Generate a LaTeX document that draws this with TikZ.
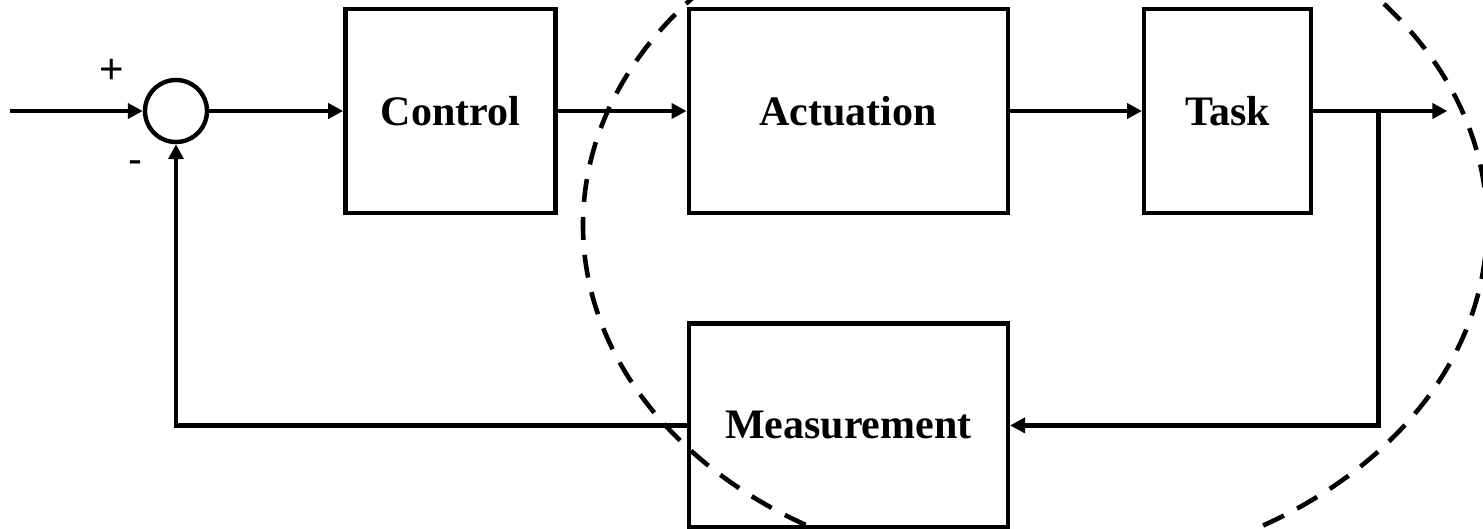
\documentclass[tikz,border=0pt]{standalone}
\usepackage{fontspec}
\setmainfont{Liberation Serif}
\newfontfamily\signfont{Liberation Sans}
\usetikzlibrary{arrows.meta,positioning}

\begin{document}
\begin{tikzpicture}[->,>={Triangle[length=7.5pt,width=7.5pt]},line width=2.2pt,
    x=0.5pt,y=-0.5pt,
    block/.style={draw,rectangle,minimum height=102pt,
      font=\fontsize{21}{25}\selectfont\bfseries},
    sumnode/.style={draw,circle,minimum size=31pt,inner sep=0pt},
    sign/.style={font=\signfont\fontsize{21}{25}\selectfont,inner sep=0pt},
    zone/.style={dashed,dash pattern=on 11.5pt off 7.5pt,line width=2.3pt}]

  \useasboundingbox (0,0) rectangle (1483,529);
  \clip (0,0) rectangle (1483,529);

  \node[sumnode] (sum) at (176,111) {};
  \node[block,minimum width=105pt] (ctrl) [right=67pt of sum] {Control};
  \node[block,minimum width=159.5pt] (act) [right=64.5pt of ctrl] {Actuation};
  \node[block,minimum width=83.5pt] (task) [right=66pt of act] {Task};
  \node[block,minimum width=159.5pt] (meas) [below=53pt of act] {Measurement};

  \node[sign] (plus) at (112,71) {+};
  \node[sign] (minus) at (135,167) {-};

  \coordinate[left=66.5pt of sum] (in);
  \coordinate[right=67pt of task] (out);
  \coordinate[right=32.5pt of task] (br);

  \draw
  (in) -- (sum);
  \draw (sum) -- (ctrl);
  \draw (ctrl) -- (act);
  \draw (act) -- (task);
  \draw (task) -- (out);
  \draw (br) |- (meas.east);
  \draw (meas.west) -| (sum.south);

  % dashed region round actuation, task and measurement
  \draw[-,zone] (1035,225) ellipse [x radius=226pt, y radius=174pt];

\end{tikzpicture}
\end{document}
